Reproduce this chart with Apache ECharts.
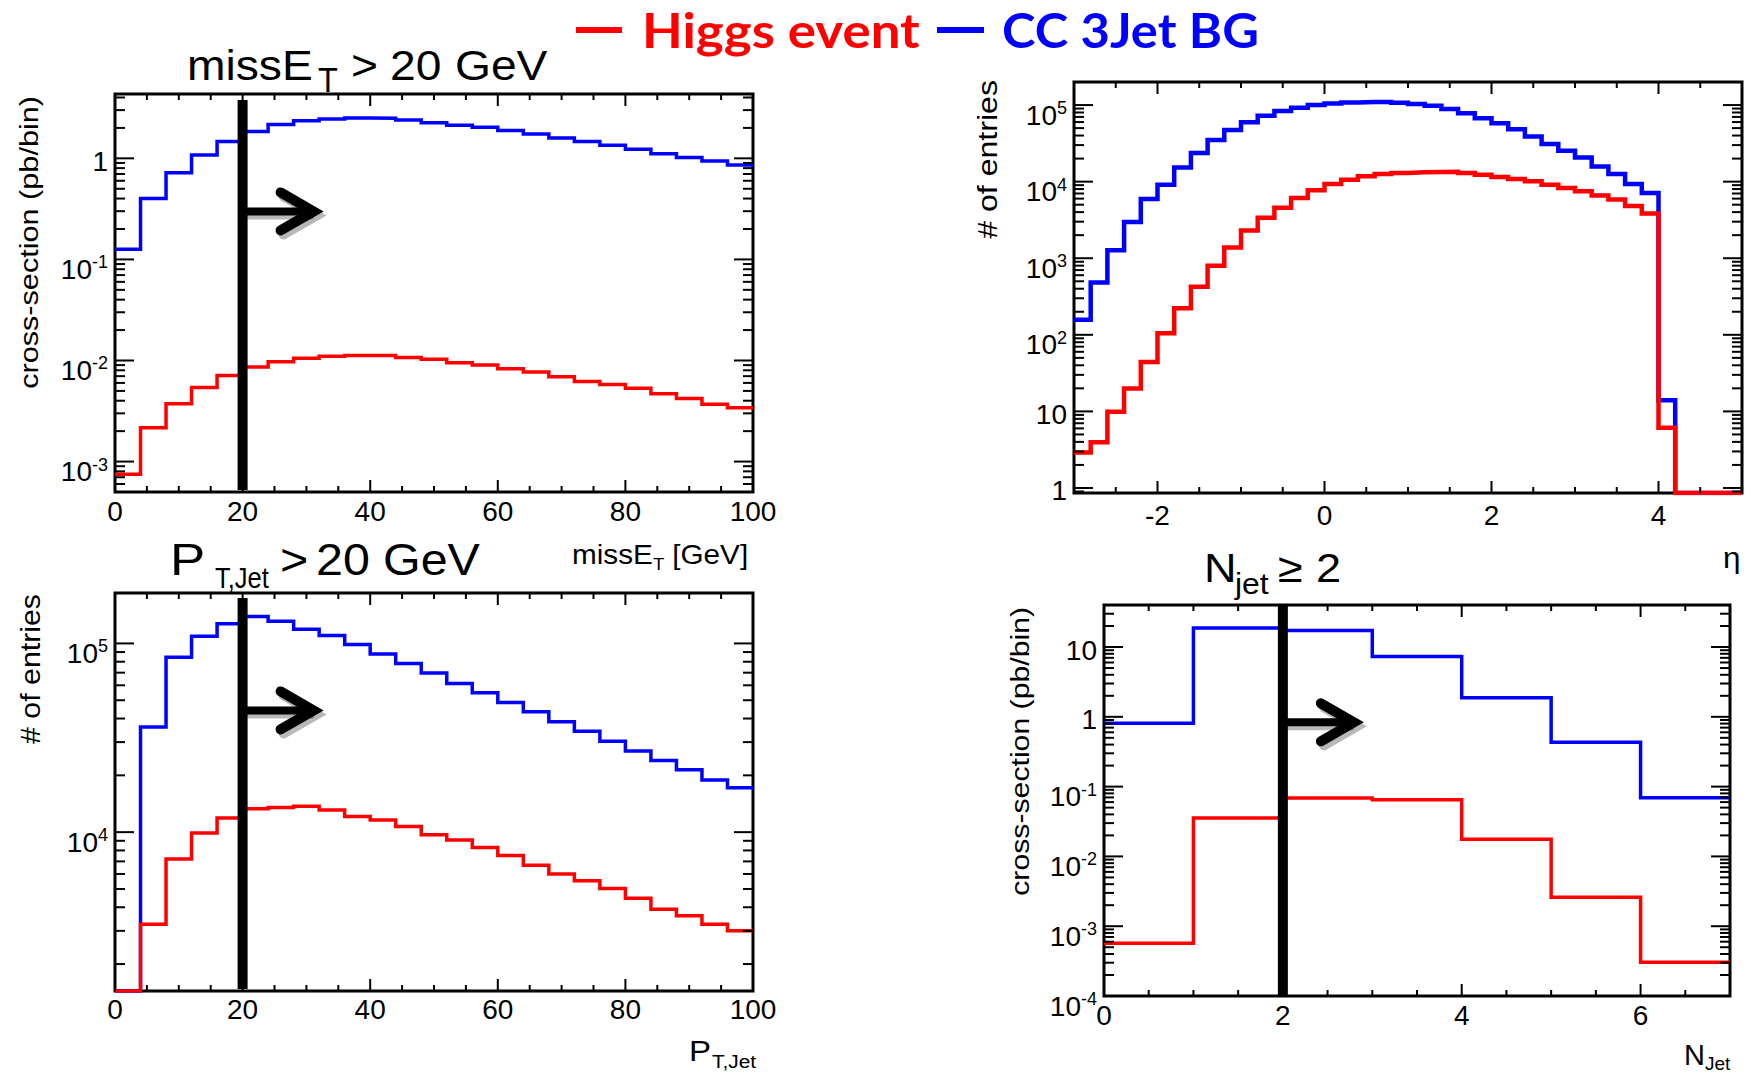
<!DOCTYPE html>
<html>
<head>
<meta charset="utf-8">
<title>Higgs event vs CC 3Jet BG</title>
<script src="https://cdn.jsdelivr.net/npm/echarts@6/dist/echarts.min.js"></script>
<style>
  html, body { margin: 0; padding: 0; background: #ffffff; }
  #chart { width: 1749px; height: 1076px; }
</style>
</head>
<body>
<div id="chart"></div>
<script>
// ---------------- data ----------------
// missing transverse energy, 4 GeV bins starting at 0 (cross-section, pb/bin)
const metBinning = { lo: 0, width: 4 };
const metHiggs = [7.5e-4, 2.16e-3, 3.73e-3, 5.4e-3, 7.1e-3, 8.6e-3, 9.7e-3, 1.05e-2, 1.10e-2, 1.12e-2,
  1.12e-2, 1.07e-2, 1.03e-2, 9.5e-3, 9.0e-3, 8.3e-3, 7.7e-3, 6.9e-3, 6.2e-3, 5.8e-3,
  5.3e-3, 4.7e-3, 4.2e-3, 3.7e-3, 3.4e-3];
const metBackground = [0.126, 0.40, 0.72, 1.08, 1.47, 1.84, 2.16, 2.35, 2.45, 2.51,
  2.49, 2.40, 2.25, 2.13, 2.03, 1.88, 1.74, 1.59, 1.47, 1.35,
  1.23, 1.11, 1.02, 0.94, 0.86];

// jet pseudorapidity, 0.2 bins starting at -3 (# of entries)
const etaBinning = { lo: -3, width: 0.2 };
const etaHiggs = [2.9, 3.96, 9.9, 19.9, 44.2, 105, 222, 424, 795, 1376,
  2310, 3380, 4550, 6130, 7710, 9330, 10620, 11730, 12590, 12970,
  13220, 13360, 13490, 12970, 12340, 11500, 10830, 10090, 9140, 8280,
  7480, 6580, 5840, 4790, 3840, 6.1, 0, 0, 0, 0];
const etaBackground = [157, 483, 1270, 2970, 5950, 9140, 15300, 23600, 35100, 47300,
  59500, 72700, 83500, 92300, 100000, 105000, 108000, 110000, 110000, 107000,
  103000, 98000, 88700, 77900, 67100, 57800, 48300, 38800, 30900, 25300,
  20700, 15800, 12600, 9330, 7130, 14.0, 0, 0, 0, 0];

// jet transverse momentum, 4 GeV bins starting at 0 (# of entries)
const ptBinning = { lo: 0, width: 4 };
const ptHiggs = [0, 3250, 7210, 9910, 11900, 13300, 13500, 13700, 13100, 12100,
  11600, 10700, 9700, 9100, 8300, 7520, 6680, 6010, 5530, 5030,
  4470, 3900, 3610, 3250, 3000];
const ptBackground = [0, 36100, 84400, 109000, 127000, 139000, 131000, 119000, 110000, 98700,
  88000, 78200, 69700, 61400, 54700, 48600, 43400, 38500, 34200, 30300,
  26900, 24000, 21400, 18900, 17200];

// jet multiplicity, unit bins starting at 0 (cross-section, pb/bin)
const njetBinning = { lo: 0, width: 1 };
const njetHiggs = [5.7e-4, 0.0354, 0.0689, 0.065, 0.0176, 2.6e-3, 3.05e-4];
const njetBackground = [0.81, 18.7, 17.3, 7.3, 1.88, 0.433, 0.069];

// selection thresholds
const cutMet = 20;
const cutPt = 20;
const cutNjet = 2;

const seriesNames = ['Higgs event', 'CC 3Jet BG'];
const HIGGS_COLOR = '#ff0000';
const BG_COLOR = '#0000ff';

// ---------------- layout ----------------
const FONT = '"Liberation Sans", Arial, Helvetica, sans-serif';
const LEGEND_FONT = 'Lato, "Open Sans", sans-serif';

const panels = [
  { grid: { left: 115, top: 94, width: 638, height: 398 }, xRange: [0, 100], xMajor: 20, xMinor: 5, xInterval: 20,
    yRange: [5e-4, 4.33], binning: metBinning, higgs: metHiggs, bg: metBackground, lineWidth: 3.5,
    cut: cutMet, arrowFrac: 0.295, cutInset: [6, 2], xLabelMargin: 5 },
  { grid: { left: 1074, top: 82, width: 668, height: 411 }, xRange: [-3, 5], xMajor: 2, xMinor: 0.5, xInterval: null,
    yRange: [0.86, 2.0e5], binning: etaBinning, higgs: etaHiggs, bg: etaBackground, lineWidth: 4.5,
    cut: null, xLabelMargin: 8 },
  { grid: { left: 115, top: 593, width: 638, height: 398 }, xRange: [0, 100], xMajor: 20, xMinor: 5, xInterval: 20,
    yRange: [1440, 1.85e5], binning: ptBinning, higgs: ptHiggs, bg: ptBackground, lineWidth: 3.5,
    cut: cutPt, arrowFrac: 0.295, cutInset: [5, 2], xLabelMargin: 4 },
  { grid: { left: 1104, top: 605, width: 626, height: 391 }, xRange: [0, 7], xMajor: 2, xMinor: 0.5, xInterval: 2,
    yRange: [1e-4, 40], binning: njetBinning, higgs: njetHiggs, bg: njetBackground, lineWidth: 3.5,
    cut: cutNjet, arrowFrac: 0.30, cutInset: [0, 0], xLabelMargin: 5 }
];

// histogram outline: left edge of every bin plus the closing right edge;
// empty bins sit on the frame floor
function stepPoints(binning, values, floor) {
  const pts = values.map((v, i) => [binning.lo + i * binning.width, v > 0 ? v : floor]);
  const last = values[values.length - 1];
  pts.push([binning.lo + values.length * binning.width, last > 0 ? last : floor]);
  return pts;
}

function isMultiple(v, step) {
  const q = v / step;
  return Math.abs(q - Math.round(q)) < 1e-6;
}

function powerLabel(v) {
  const e = Math.log10(v);
  const r = Math.round(e);
  if (Math.abs(e - r) > 1e-6) return '';
  if (r === 0) return '{p|1}';
  if (r === 1) return '{p|10}';
  return '{b|10}{e|' + r + '}';
}

// frame ticks on all four sides (major + minor, log minors at 2..9 x 10^k)
function frameTicks(p) {
  return function (params, api) {
    const cs = params.coordSys;
    const L = cs.x, R = cs.x + cs.width, T = cs.y, B = cs.y + cs.height;
    const kids = [];
    const seg = (x1, y1, x2, y2) => kids.push({
      type: 'line', shape: { x1, y1, x2, y2 }, style: { stroke: '#000', lineWidth: 2 }
    });
    const n = Math.round((p.xRange[1] - p.xRange[0]) / p.xMinor);
    for (let i = 0; i <= n; i++) {
      const v = p.xRange[0] + i * p.xMinor;
      const px = api.coord([v, p.yRange[0]])[0];
      const len = isMultiple(v, p.xMajor) ? 12 : 6;
      seg(px, B, px, B - len);
      seg(px, T, px, T + len);
    }
    const k0 = Math.floor(Math.log10(p.yRange[0]));
    const k1 = Math.ceil(Math.log10(p.yRange[1]));
    for (let k = k0; k <= k1; k++) {
      for (let m = 1; m <= 9; m++) {
        const v = m * Math.pow(10, k);
        if (v < p.yRange[0] * 0.999 || v > p.yRange[1] * 1.001) continue;
        const py = api.coord([p.xRange[0], v])[1];
        const len = m === 1 ? 19 : 10;
        seg(L, py, L + len, py);
        seg(R, py, R - len, py);
      }
    }
    return { type: 'group', children: kids };
  };
}

// thick cut line with a "keep" arrow pointing to the accepted side
function cutMarker(p) {
  return function (params, api) {
    const cs = params.coordSys;
    const T = cs.y, B = cs.y + cs.height;
    const cx = api.coord([api.value(0), api.value(1)])[0];
    const ay = T + p.arrowFrac * cs.height;
    const arrow = (dx, dy, color) => [
      { type: 'line', shape: { x1: cx + dx, y1: ay + dy, x2: cx + 68 + dx, y2: ay + dy },
        style: { stroke: color, lineWidth: 8 } },
      { type: 'polyline',
        shape: { points: [[cx + 38 + dx, ay - 19 + dy], [cx + 71 + dx, ay + dy], [cx + 38 + dx, ay + 19 + dy]] },
        style: { stroke: color, fill: 'none', lineWidth: 10, lineCap: 'round', lineJoin: 'miter' } }
    ];
    return {
      type: 'group',
      children: [
        ...arrow(3, 4, 'rgba(0,0,0,0.28)'),
        ...arrow(0, 0, '#000'),
        { type: 'line', shape: { x1: cx, y1: T + p.cutInset[0], x2: cx, y2: B - p.cutInset[1] },
          style: { stroke: '#000', lineWidth: 10 } }
      ]
    };
  };
}

const grids = [], xAxes = [], yAxes = [], series = [];
panels.forEach((p, i) => {
  grids.push(Object.assign({ show: true, borderColor: '#000', borderWidth: 3, backgroundColor: 'transparent',
    containLabel: false, outerBoundsMode: 'none' }, p.grid));
  const xa = {
    type: 'value', gridIndex: i, min: p.xRange[0], max: p.xRange[1],
    axisLine: { show: false }, axisTick: { show: false }, splitLine: { show: false },
    axisLabel: {
      show: true, color: '#000', fontFamily: FONT, fontSize: 28, margin: p.xLabelMargin,
      showMinLabel: true, showMaxLabel: true,
      formatter: v => (isMultiple(v, p.xMajor) ? String(Math.round(v)) : '')
    }
  };
  if (p.xInterval) xa.interval = p.xInterval; else xa.splitNumber = 4;
  xAxes.push(xa);
  yAxes.push({
    type: 'log', logBase: 10, gridIndex: i, min: p.yRange[0], max: p.yRange[1],
    axisLine: { show: false }, axisTick: { show: false }, splitLine: { show: false },
    axisLabel: {
      show: true, color: '#000', fontFamily: FONT, margin: 7,
      showMinLabel: true, showMaxLabel: true,
      formatter: powerLabel,
      rich: {
        p: { fontSize: 28, fontFamily: FONT, color: '#000', lineHeight: 28, padding: [3, 0, 0, 0], verticalAlign: 'top' },
        b: { fontSize: 28, fontFamily: FONT, color: '#000', lineHeight: 28, padding: [10, 0, 0, 0], verticalAlign: 'top' },
        e: { fontSize: 18, fontFamily: FONT, color: '#000', lineHeight: 18, padding: [8, 0, 0, 0], verticalAlign: 'top' }
      }
    }
  });
  const lo = p.yRange[0];
  series.push({
    name: seriesNames[1], type: 'line', xAxisIndex: i, yAxisIndex: i, step: 'end',
    data: stepPoints(p.binning, p.bg, lo), showSymbol: false, symbol: 'none', clip: true,
    lineStyle: { color: BG_COLOR, width: p.lineWidth, join: 'miter' }, z: 2, silent: true
  });
  series.push({
    name: seriesNames[0], type: 'line', xAxisIndex: i, yAxisIndex: i, step: 'end',
    data: stepPoints(p.binning, p.higgs, lo), showSymbol: false, symbol: 'none', clip: true,
    lineStyle: { color: HIGGS_COLOR, width: p.lineWidth, join: 'miter' }, z: 3, silent: true
  });
  series.push({
    type: 'custom', xAxisIndex: i, yAxisIndex: i, renderItem: frameTicks(p),
    data: [[p.xRange[0], p.yRange[0]]], clip: false, silent: true, z: 4
  });
  if (p.cut !== null) {
    series.push({
      type: 'custom', xAxisIndex: i, yAxisIndex: i, renderItem: cutMarker(p),
      data: [[p.cut, p.yRange[0]]], clip: false, silent: true, z: 5
    });
  }
});

// ---------------- text ----------------
const measureCtx = document.createElement('canvas').getContext('2d');
function naturalWidth(text, size, family, weight) {
  measureCtx.font = (weight || 'normal') + ' ' + size + 'px ' + family;
  return measureCtx.measureText(text).width;
}

function txt(o) {
  return {
    type: 'text', x: o.x, y: o.y, scaleX: o.scaleX || 1, rotation: o.rotation || 0, silent: true, z: 10,
    style: {
      text: o.text, fontSize: o.size, fontFamily: o.family || FONT, fontWeight: o.weight || 'normal',
      fill: o.color || '#000',
      textAlign: o.align || 'left', align: o.align || 'left',
      textVerticalAlign: 'middle', verticalAlign: 'middle'
    }
  };
}

// a line of text built from pieces (main text and subscripts), each given by baseline
function textPieces(x0, pieces, scaleX) {
  return pieces.map(pc => txt({
    x: x0 + pc.dx, y: pc.base - 0.35 * pc.size, text: pc.text, size: pc.size, scaleX: pc.sx || scaleX
  }));
}

// vertical axis title, reading upwards, with its end at the top of the frame
function axisTitleY(xc, yTop, text, size, length) {
  const w = naturalWidth(text, size, FONT);
  return txt({ x: xc, y: yTop, text, size, rotation: Math.PI / 2, align: 'right', scaleX: length / w });
}

// legend text stretched to a given extent
function legendText(x, baseline, text, size, length, color) {
  const w = naturalWidth(text, size, LEGEND_FONT, 'bold');
  return txt({ x, y: baseline - 0.39 * size, text, size, family: LEGEND_FONT, weight: 'bold',
    color, scaleX: length / w });
}

const graphics = [
  // legend
  { type: 'line', shape: { x1: 576, y1: 30, x2: 622, y2: 30 }, style: { stroke: HIGGS_COLOR, lineWidth: 6 }, silent: true },
  legendText(642, 48, seriesNames[0], 47, 278, HIGGS_COLOR),
  { type: 'line', shape: { x1: 937, y1: 30, x2: 984, y2: 30 }, style: { stroke: BG_COLOR, lineWidth: 6 }, silent: true },
  legendText(1002, 48, seriesNames[1], 47, 257, BG_COLOR),

  // cut titles
  ...textPieces(187, [
    { text: 'missE', dx: 0, size: 42, base: 80 },
    { text: 'T', dx: 131, size: 36, base: 92, sx: 0.9 },
    { text: '>', dx: 164, size: 42, base: 80 },
    { text: '20', dx: 203, size: 42, base: 80 },
    { text: 'GeV', dx: 268, size: 42, base: 80 }
  ], 1.1),
  ...textPieces(170, [
    { text: 'P', dx: 0, size: 44, base: 575, sx: 1.2 },
    { text: 'T,Jet', dx: 45, size: 29, base: 588, sx: 0.88 },
    { text: '>', dx: 110, size: 44, base: 575 },
    { text: '20', dx: 146, size: 44, base: 575 },
    { text: 'GeV', dx: 213, size: 44, base: 575 }
  ], 1.1),
  ...textPieces(1204, [
    { text: 'N', dx: 0, size: 41, base: 582 },
    { text: 'jet', dx: 31, size: 29, base: 594 },
    { text: '\u2265', dx: 74, size: 41, base: 582 },
    { text: '2', dx: 112, size: 41, base: 582 }
  ], 1.1),

  // x axis titles
  ...textPieces(572, [
    { text: 'missE', dx: 0, size: 27, base: 564 },
    { text: 'T', dx: 81, size: 17, base: 570 },
    { text: ' [GeV]', dx: 92, size: 27, base: 564 }
  ], 1.1),
  ...textPieces(689, [
    { text: 'P', dx: 0, size: 30, base: 1061 },
    { text: 'T,Jet', dx: 23, size: 19, base: 1068 }
  ], 1.1),
  ...textPieces(1684, [
    { text: 'N', dx: 0, size: 29, base: 1065 },
    { text: 'Jet', dx: 21, size: 19, base: 1070 }
  ], 1.0),
  ...textPieces(1723, [{ text: '\u03b7', dx: 0, size: 30, base: 568 }], 1.05),

  // y axis titles
  axisTitleY(29.5, 96, 'cross-section (pb/bin)', 25, 293),
  axisTitleY(987, 80, '# of entries', 27, 159),
  axisTitleY(30.5, 594, '# of entries', 27, 150),
  axisTitleY(1020, 607, 'cross-section (pb/bin)', 25, 289)
];

const chart = echarts.init(document.getElementById('chart'), null, { renderer: 'svg', width: 1749, height: 1076 });
chart.setOption({
  backgroundColor: '#ffffff',
  animation: false,
  grid: grids,
  xAxis: xAxes,
  yAxis: yAxes,
  series: series,
  graphic: { elements: graphics }
});
</script>
</body>
</html>
